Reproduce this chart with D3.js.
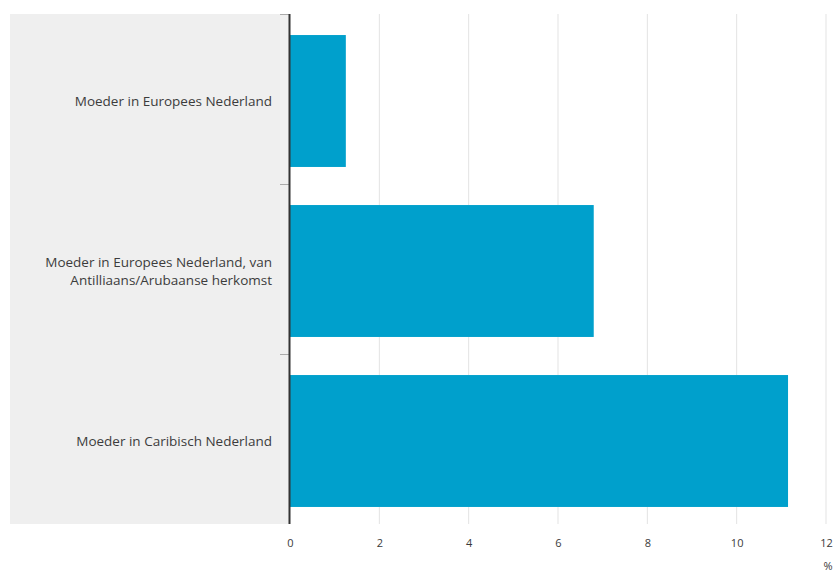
<!DOCTYPE html>
<html>
<head>
<meta charset="utf-8">
<script src="https://cdn.jsdelivr.net/npm/d3@7"></script>
<style>
  body { margin: 0; background: #fff; font-family: "Open Sans", sans-serif; }
</style>
</head>
<body>
<div id="chart"></div>
<script>
// data
var categories = [
  ["Moeder in Europees Nederland"],
  ["Moeder in Europees Nederland, van", "Antilliaans/Arubaanse herkomst"],
  ["Moeder in Caribisch Nederland"]
];
var values = [1.25, 6.8, 11.15];
var xTicks = [0, 2, 4, 6, 8, 10, 12];

var margin = {top: 14, right: 7, bottom: 49, left: 290},
    width = 833 - margin.left - margin.right,
    height = 573 - margin.top - margin.bottom;

var x = d3.scaleLinear().domain([0, 12]).range([0, width]);
var y = d3.scaleBand().domain(d3.range(values.length)).range([2, height + 2]).paddingInner(0.224).paddingOuter(0.112);

var svg = d3.select("#chart").append("svg")
    .attr("width", 833)
    .attr("height", 573)
  .append("g")
    .attr("transform", "translate(" + margin.left + "," + margin.top + ")");

// grey label panel
svg.append("rect")
    .attr("x", 10 - margin.left)
    .attr("y", 0)
    .attr("width", margin.left - 10)
    .attr("height", height)
    .attr("fill", "#efefef");

// grid lines
svg.append("g")
    .selectAll("line")
    .data(xTicks.slice(1))
  .enter().append("line")
    .attr("x1", function(d) { return x(d); })
    .attr("x2", function(d) { return x(d); })
    .attr("y1", 0)
    .attr("y2", height)
    .attr("stroke", "#e3e3e3")
    .attr("stroke-width", 1);

// bars
svg.selectAll(".bar")
    .data(values)
  .enter().append("rect")
    .attr("class", "bar")
    .attr("x", x(0))
    .attr("y", function(d, i) { return y(i); })
    .attr("width", function(d) { return x(d) - x(0); })
    .attr("height", y.bandwidth())
    .attr("fill", "#00a0cc");

// x axis labels
var xAxis = svg.append("g")
    .attr("transform", "translate(0," + height + ")")
    .call(d3.axisBottom(x).tickValues(xTicks).tickSize(0).tickPadding(15));
xAxis.select(".domain").remove();
xAxis.selectAll("text")
    .style("font-family", "Open Sans, sans-serif")
    .style("font-size", "11px")
    .attr("fill", "#3a3a3a");

svg.append("text")
    .attr("x", width + 2)
    .attr("y", height + 46)
    .attr("text-anchor", "middle")
    .style("font-size", "11px")
    .attr("fill", "#3a3a3a")
    .text("%");

// category boundary ticks
var bounds = d3.range(values.length).map(function(i) { return (height / values.length) * i; });
svg.append("g")
    .selectAll("line")
    .data(bounds)
  .enter().append("line")
    .attr("x1", -10)
    .attr("x2", 0)
    .attr("y1", function(d) { return d + 0.5; })
    .attr("y2", function(d) { return d + 0.5; })
    .attr("stroke", "#aaa")
    .attr("stroke-width", 1);

// y axis line
svg.append("line")
    .attr("x1", -0.5)
    .attr("x2", -0.5)
    .attr("y1", 0)
    .attr("y2", height)
    .attr("stroke", "#333")
    .attr("stroke-width", 2);

// category labels
var labels = svg.selectAll(".cat")
    .data(categories)
  .enter().append("text")
    .attr("class", "cat")
    .attr("text-anchor", "end")
    .style("font-size", "13.5px")
    .attr("fill", "#3c3c3c")
    .attr("transform", function(d, i) {
      return "translate(-18," + (y(i) + y.bandwidth() / 2) + ")";
    });

labels.selectAll("tspan")
    .data(function(d) { return d; })
  .enter().append("tspan")
    .attr("x", 0)
    .attr("dy", function(d, j, nodes) {
      var n = nodes.length;
      return j === 0 ? ((-(n - 1) * 18.5) / 2 + 5) + "px" : "18.5px";
    })
    .text(function(d) { return d; });
</script>
</body>
</html>
